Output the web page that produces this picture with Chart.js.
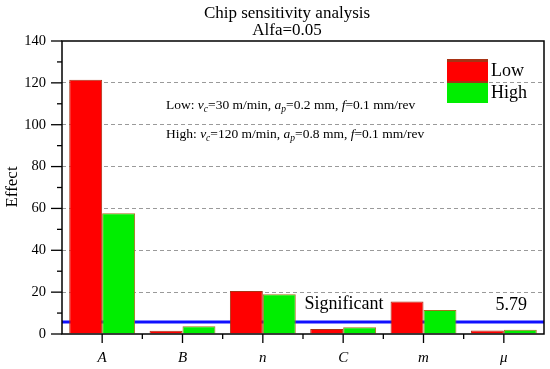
<!DOCTYPE html>
<html>
<head>
<meta charset="utf-8">
<script src="https://cdn.jsdelivr.net/npm/chart.js@4/dist/chart.umd.min.js"></script>
<style>
  html, body { margin: 0; padding: 0; background: #fff; }
  #wrap { width: 550px; height: 369px; }
</style>
</head>
<body>
<div id="wrap"><canvas id="effectChart" width="550" height="369"></canvas></div>
<script>
const factors = ['A', 'B', 'n', 'C', 'm', 'μ'];
const lowEffect = [121.5, 1.6, 20.5, 2.4, 15.5, 1.7];
const highEffect = [57.7, 3.7, 19.0, 3.2, 11.5, 2.0];
const significance = 5.79;
const yTicks = [0, 20, 40, 60, 80, 100, 120, 140];

const serif = '"Liberation Serif", "Times New Roman", serif';

// draw a line of text made of pieces (normal / italic / subscript)
function richText(ctx, x, y, parts, size) {
  let cx = x;
  parts.forEach(p => {
    const sub = p.sub;
    const fs = sub ? size * 0.7 : size;
    ctx.font = (p.it ? 'italic ' : '') + fs + 'px ' + serif;
    ctx.fillText(p.t, cx, sub ? y + size * 0.3 : y);
    cx += ctx.measureText(p.t).width;
  });
}

const extras = {
  id: 'extras',
  beforeDatasetsDraw(chart) {
    const {ctx, chartArea: a, scales: {y}} = chart;
    // significance line
    const py = y.getPixelForValue(significance);
    ctx.save();
    ctx.strokeStyle = '#1010ff';
    ctx.lineWidth = 3;
    ctx.beginPath();
    ctx.moveTo(a.left, py);
    ctx.lineTo(a.right, py);
    ctx.stroke();
    ctx.restore();
  },
  afterDraw(chart) {
    const {ctx, chartArea: a, scales: {x, y}} = chart;
    ctx.save();
    ctx.fillStyle = '#000';
    ctx.strokeStyle = '#000';

    // frame
    ctx.lineWidth = 1.5;
    ctx.strokeRect(a.left, a.top, a.right - a.left, a.bottom - a.top);

    // y ticks: major and minor
    ctx.lineWidth = 1.3;
    for (let v = 0; v <= 140; v += 10) {
      const py = y.getPixelForValue(v);
      const len = v % 20 === 0 ? 11 : 5;
      ctx.beginPath();
      ctx.moveTo(a.left - len, py);
      ctx.lineTo(a.left, py);
      ctx.stroke();
    }
    // x ticks at categories and between them
    factors.forEach((f, i) => {
      const px = x.getPixelForValue(i);
      ctx.beginPath();
      ctx.moveTo(px, a.bottom);
      ctx.lineTo(px, a.bottom + 9);
      ctx.stroke();
      if (i > 0) {
        const bx = (px + x.getPixelForValue(i - 1)) / 2;
        ctx.beginPath();
        ctx.moveTo(bx, a.bottom);
        ctx.lineTo(bx, a.bottom + 5);
        ctx.stroke();
      }
    });

    // titles
    ctx.textAlign = 'center';
    ctx.textBaseline = 'middle';
    ctx.font = '17px ' + serif;
    ctx.fillText('Chip sensitivity analysis', 287, 14);
    ctx.fillText('Alfa=0.05', 287, 31);

    // y axis title
    ctx.save();
    ctx.translate(13, 187);
    ctx.rotate(-Math.PI / 2);
    ctx.font = '17px ' + serif;
    ctx.fillText('Effect', 0, 0);
    ctx.restore();

    // significance labels
    ctx.font = '18px ' + serif;
    ctx.fillText('Significant', 344, 304);
    ctx.textAlign = 'right';
    ctx.fillText('5.79', 527, 305);

    // conditions
    ctx.textAlign = 'left';
    richText(ctx, 166, 105, [
      {t: 'Low: '}, {t: 'v', it: 1}, {t: 'c', it: 1, sub: 1}, {t: '=30 m/min, '},
      {t: 'a', it: 1}, {t: 'p', it: 1, sub: 1}, {t: '=0.2 mm, '},
      {t: 'f', it: 1}, {t: '=0.1 mm/rev'}
    ], 13.5);
    richText(ctx, 166, 134, [
      {t: 'High: '}, {t: 'v', it: 1}, {t: 'c', it: 1, sub: 1}, {t: '=120 m/min, '},
      {t: 'a', it: 1}, {t: 'p', it: 1, sub: 1}, {t: '=0.8 mm, '},
      {t: 'f', it: 1}, {t: '=0.1 mm/rev'}
    ], 13.5);

    // legend
    const lx = 447, lw = 41;
    ctx.fillStyle = '#ff0000';
    ctx.fillRect(lx, 60, lw, 21);
    ctx.fillStyle = '#00ee00';
    ctx.fillRect(lx, 81, lw, 22);
    ctx.fillStyle = '#a83214';
    ctx.fillRect(lx, 59, lw, 3);
    ctx.fillRect(lx, 81, lw, 2);
    ctx.fillStyle = '#000';
    ctx.font = '18px ' + serif;
    ctx.textBaseline = 'middle';
    ctx.fillText('Low', 491, 71);
    ctx.fillText('High', 491, 93);
    ctx.restore();
  }
};

new Chart(document.getElementById('effectChart'), {
  type: 'bar',
  data: {
    labels: factors,
    datasets: [
      {
        label: 'Low',
        data: lowEffect,
        backgroundColor: '#ff0000',
        borderColor: '#a83214',
        borderWidth: 1
      },
      {
        label: 'High',
        data: highEffect,
        backgroundColor: '#00ee00',
        borderColor: '#a8701a',
        borderWidth: 1
      }
    ]
  },
  options: {
    responsive: false,
    animation: false,
    layout: { padding: { top: 41, right: 6, left: 0, bottom: 0 } },
    plugins: { legend: { display: false }, tooltip: { enabled: false } },
    datasets: { bar: { barPercentage: 1, categoryPercentage: 0.82 } },
    scales: {
      x: {
        grid: { display: false, drawTicks: false },
        border: { display: false },
        ticks: {
          padding: 15,
          color: '#000',
          font: { family: serif, size: 15, style: 'italic' }
        },
        afterFit: s => { s.height = 35; }
      },
      y: {
        min: 0,
        max: 140,
        afterBuildTicks: s => { s.ticks = yTicks.map(v => ({value: v})); },
        grid: {
          drawTicks: false,
          color: c => (c.tick && c.tick.value > 0 && c.tick.value < 140) ? '#9a9a9a' : 'rgba(0,0,0,0)',
          lineWidth: 1
        },
        border: { display: false, dash: [4, 3] },
        ticks: {
          padding: 16,
          color: '#000',
          font: { family: serif, size: 14.5 }
        },
        afterFit: s => { s.width = 62; }
      }
    }
  },
  plugins: [extras]
});
</script>
</body>
</html>
